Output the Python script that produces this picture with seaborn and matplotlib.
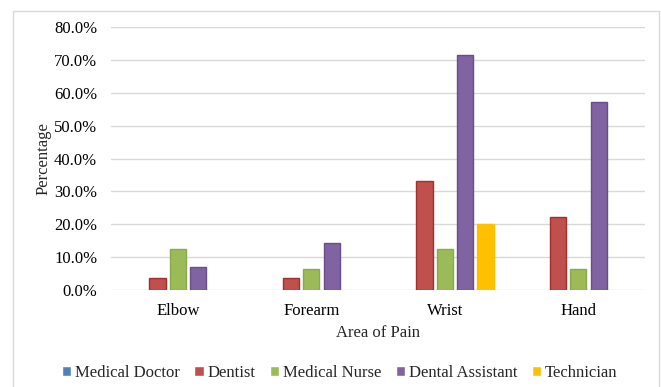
import matplotlib
matplotlib.use("Agg")
import matplotlib.pyplot as plt
from matplotlib.patches import Rectangle
from matplotlib.ticker import FuncFormatter, MultipleLocator
import seaborn as sns
import pandas as pd

# Share of each professional group reporting pain, by body area (%)
areas = ["Elbow", "Forearm", "Wrist", "Hand"]
groups = ["Medical Doctor", "Dentist", "Medical Nurse", "Dental Assistant", "Technician"]
medical_doctor = [0.0, 0.0, 0.0, 0.0]
dentist = [3.7, 3.7, 33.3, 22.2]
medical_nurse = [12.5, 6.25, 12.5, 6.25]
dental_assistant = [7.1, 14.3, 71.4, 57.1]
technician = [0.0, 0.0, 20.0, 0.0]

series = [medical_doctor, dentist, medical_nurse, dental_assistant, technician]
colors = ["#4F81BD", "#C0504D", "#9BBB59", "#8064A2", "#FFC000"]
edges = ["#3A6AA0", "#A0302D", "#8AAA48", "#6A4E8C", "#FFC000"]

rows = []
for g, vals in zip(groups, series):
    for a, v in zip(areas, vals):
        rows.append({"Area": a, "Group": g, "Percentage": v})
df = pd.DataFrame(rows)

sns.set_theme(style="white")
plt.rcParams["font.family"] = ["Liberation Serif", "DejaVu Serif"]

fig = plt.figure(figsize=(6.61, 3.87), dpi=100)
ax = fig.add_axes([0.168, 0.2506, 0.808, 0.6794])

sns.barplot(data=df, x="Area", y="Percentage", hue="Group",
            order=areas, hue_order=groups, palette=colors,
            width=0.76, gap=0.2, saturation=1, errorbar=None, ax=ax)

# Darker outline on each bar; hide outline on empty bars
for cont, ec in zip(ax.containers, edges):
    for p in cont:
        if p.get_height() == 0:
            p.set_linewidth(0)
        else:
            p.set_edgecolor(ec)
            p.set_linewidth(1.0)

ax.set_ylim(0, 80)
ax.yaxis.set_major_locator(MultipleLocator(10))
ax.yaxis.set_major_formatter(FuncFormatter(lambda v, _: f"{v:.1f}%"))
ax.grid(axis="y", color="#D9D9D9", linewidth=1.0)
ax.set_axisbelow(True)
for s in ax.spines.values():
    s.set_visible(False)
ax.tick_params(axis="both", length=0, labelsize=12, colors="#000000")
ax.tick_params(axis="y", pad=10)
ax.tick_params(axis="x", pad=9)

ax.set_xlabel("Area of Pain", fontsize=12, labelpad=5)
ax.set_ylabel("Percentage", fontsize=12, labelpad=2)

leg = ax.legend(loc="center", bbox_to_anchor=(0.514, 0.037),
                bbox_transform=fig.transFigure, ncol=5, frameon=False,
                fontsize=12, handlelength=0.55, handleheight=0.55,
                handletextpad=0.25, columnspacing=0.85)

# Light chart-area border
fig.patches.append(Rectangle((13 / 661, -0.05), 646 / 661, 1.05 - 11 / 387,
                             transform=fig.transFigure, fill=False,
                             edgecolor="#D9D9D9", linewidth=1.0))

fig.savefig("out.png", dpi=100, facecolor="white")
